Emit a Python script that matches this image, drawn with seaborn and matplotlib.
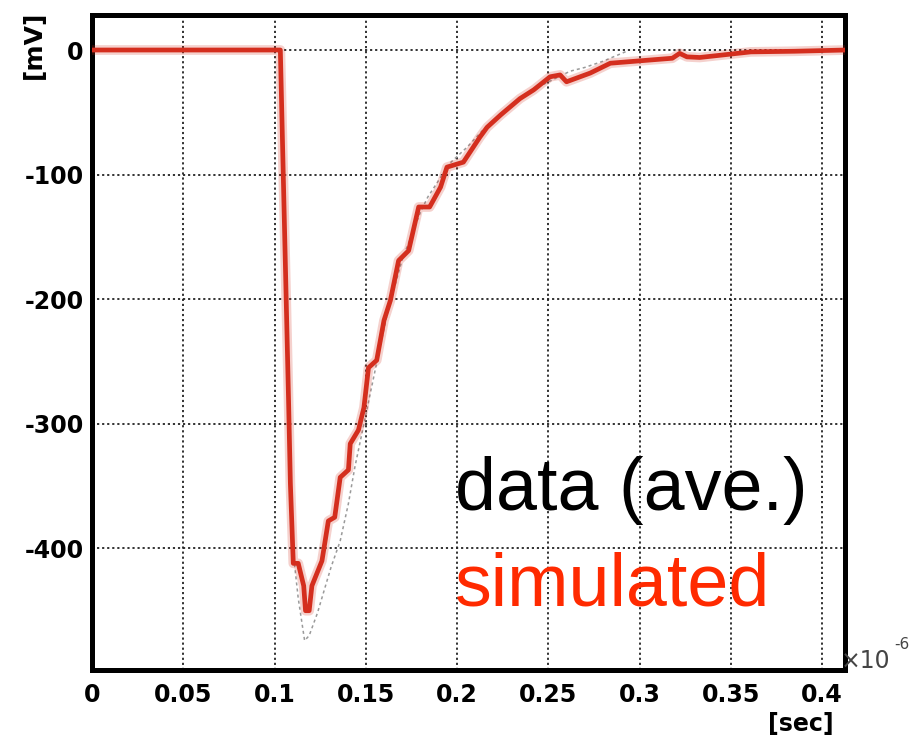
import numpy as np
import pandas as pd
import seaborn as sns
import matplotlib.pyplot as plt
from matplotlib.ticker import MultipleLocator, FixedLocator

# simulated pulse (red), x in 1e-6 sec, y in mV
sim_t = [0.0, 0.1032, 0.1077, 0.1087, 0.1103, 0.113, 0.116, 0.117, 0.119, 0.1205,
         0.126, 0.1295, 0.133, 0.136, 0.1405, 0.1415, 0.146, 0.149, 0.1515, 0.156,
         0.16, 0.1635, 0.168, 0.1735, 0.179, 0.185, 0.191, 0.1945, 0.2035, 0.2125,
         0.2165, 0.224, 0.2345, 0.242, 0.251, 0.2565, 0.26, 0.273, 0.284, 0.306,
         0.318, 0.322, 0.326, 0.333, 0.361, 0.385, 0.413]
sim_v = [0, 0, -281, -348, -412, -412, -430, -450, -450, -430,
         -410, -378, -375, -343, -337, -316, -305, -287, -255, -249,
         -217, -201, -169, -161, -126, -126, -110, -94, -90, -70,
         -62, -52, -39, -32, -21.5, -20, -25.5, -18.5, -10.6, -8,
         -6.6, -2.7, -5.5, -6, -1.5, -1, 0]

# measured average (grey dotted)
data_t = [0.0, 0.1032, 0.108, 0.110, 0.113, 0.1165, 0.119, 0.1235, 0.131, 0.136,
          0.1405, 0.144, 0.149, 0.155, 0.162, 0.170, 0.180, 0.184, 0.196, 0.2055,
          0.215, 0.225, 0.240, 0.255, 0.262, 0.270, 0.280, 0.293]
data_v = [0, 0, -320, -400, -440, -474, -470, -452, -415, -394,
          -364, -335, -300, -258, -210, -168, -130, -118, -91, -78,
          -63, -50, -33, -22, -17, -14, -9, -1]

x_ticks = [0, 0.05, 0.1, 0.15, 0.2, 0.25, 0.3, 0.35, 0.4]
x_labels = ["0", "0.05", "0.1", "0.15", "0.2", "0.25", "0.3", "0.35", "0.4"]
y_ticks = [0, -100, -200, -300, -400]
y_labels = ["0", "-100", "-200", "-300", "-400"]

sim = pd.DataFrame({"t": sim_t, "v": sim_v})
dat = pd.DataFrame({"t": data_t, "v": data_v})

sns.set_style("white")
plt.rcParams['font.family'] = ['DejaVu Sans']

fig = plt.figure(figsize=(9.16, 7.38), dpi=100)
ax = fig.add_axes([92 / 916, 1 - 670 / 738, (845 - 92) / 916, (670 - 15) / 738])

red = "#d42e1e"
# soft halo + main red line
sns.lineplot(data=sim, x="t", y="v", ax=ax, sort=False, estimator=None,
             color=red, lw=7, alpha=0.22, zorder=3)
sns.lineplot(data=sim, x="t", y="v", ax=ax, sort=False, estimator=None,
             color=red, lw=3.4, zorder=4)
sns.lineplot(data=dat, x="t", y="v", ax=ax, sort=False, estimator=None,
             color="#9a9a9a", lw=1.1, linestyle=(0, (2, 2)), zorder=2)

ax.set_xlim(0, 0.4126)
ax.set_ylim(-497.6, 28.1)
ax.set_xlabel("")
ax.set_ylabel("")

ax.xaxis.set_major_locator(FixedLocator(x_ticks))
ax.set_xticklabels(x_labels)
ax.yaxis.set_major_locator(FixedLocator(y_ticks))
ax.set_yticklabels(y_labels)
ax.xaxis.set_minor_locator(MultipleLocator(0.01))
ax.yaxis.set_minor_locator(MultipleLocator(20))

ax.tick_params(axis="both", which="major", direction="in", length=13, width=1.5,
               color="black", labelcolor="black", labelsize=17)
ax.tick_params(axis="both", which="minor", direction="in", length=6, width=1.2,
               color="black")
ax.tick_params(axis="x", which="major", pad=9)
ax.tick_params(axis="y", which="major", pad=6)
for lab in ax.get_xticklabels() + ax.get_yticklabels():
    lab.set_fontweight("bold")

ax.grid(True, which="major", color="#222222", linestyle=(0, (1.2, 1.6)), lw=1.3)
for s in ax.spines.values():
    s.set_visible(True)
    s.set_color("black")
    s.set_linewidth(3.6)

# axis unit labels
fig.text(34 / 916, 1 - 45 / 738, "[mV]", rotation=90, ha="center", va="center",
         fontsize=18, fontweight="bold", color="black")
fig.text(801 / 916, 1 - 724 / 738, "[sec]", ha="center", va="center",
         fontsize=17, fontweight="bold", color="black")
fig.text(841 / 916, 1 - 673 / 738, "\u00d710", ha="left", va="bottom",
         fontsize=17, color="#444444", zorder=1)
fig.text(894 / 916, 1 - 652 / 738, "-6", ha="left", va="bottom",
         fontsize=11, color="#444444", zorder=1)

# legend-like labels
fig.text(455 / 916, 1 - 510 / 738, "data (ave.)", ha="left", va="baseline",
         fontsize=53, color="black", family=["Liberation Sans", "DejaVu Sans"])
fig.text(455 / 916, 1 - 605 / 738, "simulated", ha="left", va="baseline",
         fontsize=53, color="#ff2a00", family=["Liberation Sans", "DejaVu Sans"])

fig.savefig("out.png", dpi=100, facecolor="white")
